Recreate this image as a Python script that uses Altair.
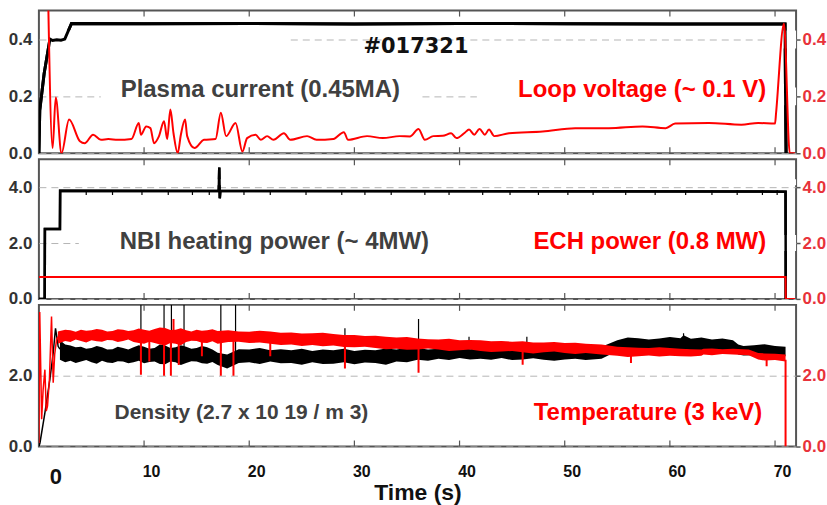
import altair as alt
import pandas as pd

# ---------------- Panel 1: plasma current (MA, black) and loop voltage (V, red)
ip_t = [0.0, 0.08, 0.5, 1.05, 1.3, 1.7, 2.1, 2.46, 3.1, 10, 20, 30, 40, 50, 60, 70.95, 71.0, 71.05]
ip_v = [0.0, 0.15, 0.28, 0.40, 0.395, 0.398, 0.396, 0.40, 0.455, 0.454, 0.455, 0.453, 0.455, 0.454, 0.453, 0.453, 0.2, 0.0]

lv_t = [0.85, 1.3, 1.6, 2.15, 2.87, 3.9, 4.35, 5.15, 5.9, 6.6,
        7.5, 8.8, 9.5, 9.7, 10.2, 10.6, 10.95, 11.4, 11.9, 12.2,
        12.5, 12.8, 13.2, 13.5, 13.9, 14.1, 14.8, 15.7, 16.8, 17.3,
        17.8, 18.7, 19.35, 19.8, 20.6, 21.1, 21.7, 22.3, 23.3, 23.9,
        25.5, 26.4, 28.0, 29.0, 29.4, 31.2, 32.7, 34.3, 35.3, 36.1,
        36.7, 37.5, 38.4, 39.2, 39.7, 40.5, 40.9, 41.4, 41.9, 42.4,
        42.8, 43.3, 44.7, 47.9, 51.0, 54.2, 57.4, 59.6, 60.5, 63.7,
        66.8, 68.4, 70.0, 70.1, 70.85, 71.4, 71.9]
lv_v = [0.60, 0.018, 0.195, 0.0, 0.118, 0.042, 0.035, 0.065, 0.047, 0.05,
        0.047, 0.05, 0.106, 0.065, 0.094, 0.088, 0.035, 0.058, 0.112, 0.05,
        0.153, 0.07, 0.0, 0.065, 0.118, 0.06, 0.018, 0.047, 0.05, 0.142,
        0.06, 0.106, 0.006, 0.053, 0.065, 0.047, 0.06, 0.047, 0.07, 0.047,
        0.06, 0.047, 0.05, 0.074, 0.047, 0.06, 0.053, 0.06, 0.059, 0.085,
        0.047, 0.06, 0.061, 0.07, 0.053, 0.072, 0.083, 0.065, 0.085, 0.065,
        0.083, 0.06, 0.07, 0.076, 0.088, 0.088, 0.094, 0.088, 0.104, 0.106,
        0.10, 0.106, 0.104, 0.142, 0.454, 0.0, 0.0]

# ---------------- Panel 2: NBI heating power (MW, black) and ECH power (MW, red)
nbi_t = [0.0, 0.55, 0.57, 2.0, 2.02, 17.1, 17.15, 17.2, 17.25, 71.0, 71.02]
nbi_v = [0.0, 0.0, 2.5, 2.5, 3.87, 3.86, 4.7, 3.6, 3.86, 3.84, 0.0]
nbi_dip_t = [4.5, 7.0, 9.8, 12.3, 14.6, 16.2, 19.5, 22.0, 25.4, 28.8, 31.0, 33.5, 36.7,
             39.0, 42.2, 44.8, 47.5, 50.3, 52.7, 55.8, 58.6, 61.5, 64.0, 66.4, 68.8, 70.2]
nbi_dip_lo = [3.72] * len(nbi_dip_t)
nbi_dip_hi = [3.9] * len(nbi_dip_t)

ech_t = [0.0, 71.0, 71.02, 71.9]
ech_v = [0.78, 0.78, 0.0, 0.0]

# ---------------- Panel 3: density (black) and temperature (red)
ne_early_t = [0.0, 0.1, 0.57, 1.04, 1.36, 1.58, 1.83, 2.0]
ne_early_v = [0.0, 0.1, 0.95, 1.89, 2.64, 3.34, 2.83, 2.75]
ne_t = [2.0, 2.5, 3, 3.5, 4, 4.5, 5, 5.5, 6, 6.5, 7, 7.5, 8, 8.5, 9, 9.5, 10, 10.5, 11,
        11.5, 12, 12.5, 13, 13.5, 14, 14.5, 15, 15.5, 16, 16.5, 17, 17.9, 19, 20, 21, 22, 23,
        24, 25, 26, 27, 28, 29, 30, 31, 32, 33, 34, 35, 36, 37, 38, 39, 40, 41, 42, 43,
        44, 45, 46, 47, 48, 49, 50, 51, 52, 53.5, 55, 56, 57, 58, 59, 60, 61,
        61.3, 62, 63, 64, 65, 66, 66.5, 67, 68, 69, 70, 71.0]
ne_lo = [2.45, 2.38, 2.42, 2.36, 2.40, 2.44, 2.38, 2.34, 2.42, 2.37, 2.36, 2.41, 2.40, 2.35, 2.38, 2.42, 2.35, 2.39, 2.40,
         2.33, 2.32, 2.40, 2.38, 2.30, 2.36, 2.41, 2.40, 2.35, 2.34, 2.39, 2.30, 2.20, 2.36, 2.38, 2.33, 2.40, 2.35,
         2.36, 2.31, 2.38, 2.33, 2.34, 2.38, 2.32, 2.37, 2.36, 2.31, 2.40, 2.38, 2.45, 2.42, 2.48, 2.44, 2.50, 2.46, 2.48, 2.45,
         2.50, 2.44, 2.46, 2.49, 2.45, 2.42, 2.46, 2.48, 2.44, 2.48, 2.70, 2.66, 2.72, 2.69, 2.74, 2.70, 2.72,
         2.75, 2.72, 2.68, 2.74, 2.70, 2.72, 2.60, 2.57, 2.58, 2.54, 2.56, 2.55]
ne_hi = [3.00, 2.88, 2.85, 2.80, 2.82, 2.76, 2.78, 2.84, 2.80, 2.74, 2.75, 2.82, 2.78, 2.74, 2.80, 2.86, 2.82, 2.76, 2.78,
         2.88, 2.85, 2.78, 2.80, 2.86, 2.82, 2.76, 2.78, 2.84, 2.80, 2.74, 2.65, 2.60, 2.75, 2.74, 2.78, 2.72, 2.75,
         2.72, 2.76, 2.70, 2.74, 2.72, 2.76, 2.70, 2.73, 2.72, 2.77, 2.74, 2.79, 2.78, 2.74, 2.76, 2.80, 2.78, 2.75, 2.78, 2.81,
         2.76, 2.80, 2.78, 2.74, 2.78, 2.81, 2.76, 2.79, 2.80, 2.82, 3.00, 3.08, 3.06, 3.02, 3.05, 3.09, 3.06,
         3.14, 3.04, 3.08, 3.02, 3.05, 3.00, 2.88, 2.84, 2.86, 2.89, 2.84, 2.82]
ne_spike_t = [9.7, 11.9, 12.6, 13.8, 17.3, 18.7, 29.1, 36.1, 40.9, 46.4, 61.3]
ne_spike_lo = [2.8, 2.8, 2.8, 2.8, 2.7, 2.7, 2.7, 2.75, 2.75, 2.75, 3.0]
ne_spike_hi = [4.0, 4.0, 4.0, 4.0, 4.0, 4.0, 3.34, 3.6, 3.1, 3.1, 3.2]

te_early_t = [0.0, 0.08, 0.26, 0.4, 0.57, 0.7, 0.82, 1.0, 1.2, 1.36, 1.5, 1.67, 1.8]
te_early_v = [0.1, 3.8, 0.77, 1.6, 2.17, 1.0, 1.15, 1.9, 3.67, 1.8, 2.6, 3.0, 3.1]
te_t = [1.8, 2.5, 3, 3.5, 4, 4.5, 5, 5.5, 6, 6.5, 7, 7.5, 8, 8.5, 9, 9.5, 10, 10.5, 11,
        11.5, 12, 12.5, 13, 13.5, 14, 14.5, 15, 15.5, 16, 16.5, 17, 18, 19, 20, 21, 22, 23,
        24, 25, 26, 27, 28, 29, 30, 31, 32, 33, 34, 35, 36, 37, 38, 39, 40, 41, 42, 43,
        44, 45, 46, 47, 48, 49, 50, 51, 52, 53.5, 55, 56, 57, 58, 59, 60, 61,
        62, 63, 63.2, 64, 65, 66, 67.5, 68.4, 69, 70, 71.0]
te_lo = [2.90, 2.98, 2.95, 3.02, 2.98, 2.94, 3.00, 2.97, 2.96, 3.01, 3.00, 2.95, 2.98, 3.02, 2.95, 2.92, 2.90, 2.96, 2.92,
         2.88, 2.85, 2.92, 2.90, 2.86, 2.95, 2.99, 2.98, 2.93, 2.92, 2.97, 2.90, 2.95, 2.96, 2.92, 2.94, 2.90, 2.87,
         2.88, 2.84, 2.87, 2.83, 2.85, 2.81, 2.80, 2.82, 2.78, 2.75, 2.76, 2.73, 2.74, 2.77, 2.74, 2.70, 2.72, 2.74, 2.70, 2.67,
         2.68, 2.70, 2.66, 2.63, 2.66, 2.68, 2.64, 2.61, 2.64, 2.60, 2.56, 2.53, 2.55, 2.57, 2.54, 2.56, 2.55,
         2.54, 2.56, 2.60, 2.58, 2.61, 2.60, 2.58, 2.46, 2.43, 2.44, 2.40]
te_hi = [3.25, 3.30, 3.28, 3.24, 3.30, 3.27, 3.28, 3.32, 3.30, 3.25, 3.26, 3.31, 3.30, 3.26, 3.28, 3.33, 3.30, 3.27, 3.32,
         3.36, 3.35, 3.29, 3.30, 3.34, 3.28, 3.25, 3.30, 3.27, 3.28, 3.31, 3.26, 3.28, 3.25, 3.24, 3.27, 3.25, 3.21,
         3.22, 3.19, 3.20, 3.21, 3.18, 3.15, 3.15, 3.12, 3.13, 3.10, 3.08, 3.09, 3.05, 3.03, 3.02, 3.04, 3.00, 3.01, 3.00, 2.97,
         2.98, 2.96, 2.97, 2.94, 2.94, 2.95, 2.92, 2.93, 2.90, 2.88, 2.82, 2.80, 2.79, 2.78, 2.80, 2.78, 2.76,
         2.75, 2.74, 2.76, 2.77, 2.75, 2.76, 2.74, 2.64, 2.63, 2.62, 2.60]
te_dip_t = [9.7, 10.5, 11.9, 12.55, 13.3, 15.5, 17.3, 18.5, 22.0, 29.1, 36.1, 46.0, 56.3, 69.2, 71.0]
te_dip_lo = [2.03, 2.40, 2.00, 2.00, 2.30, 2.55, 2.00, 2.00, 2.55, 2.20, 2.08, 2.31, 2.36, 2.27, 0.0]
te_dip_hi = [3.0, 3.0, 3.0, 3.0, 3.0, 3.0, 3.0, 3.0, 3.0, 2.9, 2.8, 2.75, 2.6, 2.5, 2.45]
te_spike_t = [12.8]
te_spike_lo = [3.0]
te_spike_hi = [3.6]

tick_times = [10, 20, 30, 40, 50, 60, 70]
x_labels = [0, 10, 20, 30, 40, 50, 60, 70]

# ---------------- styling
W = 759
H1, H2, H3 = 143, 140, 142
RED = "#ff0000"
LABEL_RED = "#e8323a"
GREY_TXT = "#404040"
FONT = "Liberation Sans"
XS = alt.Scale(domain=[0, 72], nice=False, zero=False)
one = pd.DataFrame({"k": [0]})


def line_df(t, v):
    return pd.DataFrame({"t": t, "v": v, "i": list(range(len(t)))})


def band_df(t, lo, hi):
    return pd.DataFrame({"t": t, "lo": lo, "hi": hi})


def yscale(hi):
    return alt.Scale(domain=[0, hi], nice=False, zero=False)


def left_axis(vals):
    return alt.Axis(values=vals, format=".1f", orient="left", ticks=False, domain=False,
                    labelPadding=7, labelFont=FONT, labelFontSize=17, labelFontWeight="bold",
                    labelColor="#333333", grid=True, gridDash=[7, 5], gridColor="#b5b5b5",
                    minExtent=38, maxExtent=38, title=None)


def right_axis(vals):
    return alt.Axis(values=vals, format=".1f", orient="right", ticks=True, tickSize=4,
                    tickColor="#555555", tickWidth=1.5, domain=False, labelPadding=2,
                    labelFont=FONT, labelFontSize=17, labelFontWeight="bold",
                    labelColor=LABEL_RED, grid=False, minExtent=30, maxExtent=30, title=None)


def line(t, v, color, width, ys, xenc, axis=None, interp="linear"):
    return alt.Chart(line_df(t, v)).mark_line(color=color, strokeWidth=width, clip=True,
                                              interpolate=interp).encode(
        x=xenc, y=alt.Y("v:Q", scale=ys, axis=axis), order="i:Q")


def band(t, lo, hi, color, ys, xenc):
    return alt.Chart(band_df(t, lo, hi)).mark_area(color=color, opacity=1, clip=True).encode(
        x=xenc, y=alt.Y("lo:Q", scale=ys, axis=None), y2="hi:Q")


def rules(t, lo, hi, color, width, ys, xenc):
    return alt.Chart(band_df(t, lo, hi)).mark_rule(color=color, strokeWidth=width, clip=True).encode(
        x=xenc, y=alt.Y("lo:Q", scale=ys, axis=None), y2="hi:Q")


def mask(x1, x2, y1, y2):
    return alt.Chart(one).mark_rect(color="white").encode(
        x=alt.value(x1), x2=alt.value(x2), y=alt.value(y1), y2=alt.value(y2))


def label(s, x, y, size, color, align="center", font=FONT):
    return alt.Chart(one).mark_text(text=s, align=align, baseline="middle", font=font,
                                    fontSize=size, fontWeight="bold", color=color).encode(
        x=alt.value(x), y=alt.value(y))


def inner_ticks(h, xenc):
    d = pd.DataFrame({"t": tick_times})
    top = alt.Chart(d).mark_rule(color="#555555", strokeWidth=1.2).encode(
        x=xenc, y=alt.value(0), y2=alt.value(6))
    bot = alt.Chart(d).mark_rule(color="#555555", strokeWidth=1.2).encode(
        x=xenc, y=alt.value(h), y2=alt.value(h - 6))
    return [top, bot]


# ---------------- panel 1
x1 = alt.X("t:Q", scale=XS, axis=None)
ys1 = yscale(0.5)
p1 = alt.layer(
    line(ip_t, ip_v, "#000000", 3, ys1, x1, left_axis([0.0, 0.2, 0.4])),
    mask(9, 249, 20, 38), mask(62, 382, 77, 95), mask(439, 759, 77, 95), mask(729, 759, 20, 38),
    line(ip_t, ip_v, "#000000", 3, ys1, x1),
    line(lv_t, lv_v, RED, 2, ys1, x1, right_axis([0.0, 0.2, 0.4]), interp="monotone"),
    label("#017321", 378, 37, 21, "#111111", font="DejaVu Sans"),
    label("Plasma current (0.45MA)", 222, 80, 24, GREY_TXT),
    label("Loop voltage (~ 0.1 V)", 729, 80, 24, RED, align="right"),
    *inner_ticks(H1, x1),
).resolve_scale(y="independent").properties(width=W, height=H1)

# ---------------- panel 2
x2 = alt.X("t:Q", scale=XS, axis=None)
ys2 = yscale(5.0)
p2 = alt.layer(
    line(nbi_t, nbi_v, "#000000", 2.5, ys2, x2, left_axis([0.0, 2.0, 4.0])),
    mask(7, 759, 20, 26), mask(40, 759, 76, 92),
    line(nbi_t, nbi_v, "#000000", 2.5, ys2, x2),
    rules(nbi_dip_t, nbi_dip_lo, nbi_dip_hi, "#000000", 1.2, ys2, x2),
    line(ech_t, ech_v, RED, 2, ys2, x2, right_axis([0.0, 2.0, 4.0])),
    label("NBI heating power (~ 4MW)", 236, 83, 24, GREY_TXT),
    label("ECH power (0.8 MW)", 729, 83, 24, RED, align="right"),
    *inner_ticks(H2, x2),
).resolve_scale(y="independent").properties(width=W, height=H2)

# ---------------- panel 3
xax3 = alt.Axis(values=x_labels, labelExpr="datum.value == 0 ? '' : datum.label",
                ticks=False, domain=False, grid=False, labelPadding=17, labelFont=FONT,
                labelFontSize=16, labelFontWeight="bold", labelColor="#111111", labelOffset=7,
                title="Time (s)", titleFont=FONT, titleFontSize=23, titleFontWeight="bold",
                titleColor="#111111", titlePadding=2)
x3 = alt.X("t:Q", scale=XS, axis=xax3)
ys3 = yscale(4.0)
p3 = alt.layer(
    band(ne_t, ne_lo, ne_hi, "#000000", ys3, x3),
    line(ne_early_t, ne_early_v, "#000000", 1.5, ys3, x3, left_axis([0.0, 2.0])),
    rules(ne_spike_t, ne_spike_lo, ne_spike_hi, "#000000", 1.2, ys3, x3),
    band(te_t, te_lo, te_hi, RED, ys3, x3),
    line(te_early_t, te_early_v, RED, 1.5, ys3, x3, right_axis([0.0, 2.0])),
    rules(te_dip_t, te_dip_lo, te_dip_hi, RED, 2, ys3, x3),
    rules(te_spike_t, te_spike_lo, te_spike_hi, RED, 2, ys3, x3),
    label("Density (2.7 x 10 19 / m 3)", 203, 108, 21, GREY_TXT),
    label("Temperature (3 keV)", 725, 108, 24, RED, align="right"),
    label("0", 17, 173, 22, "#111111"),
    *inner_ticks(H3, x3),
).resolve_scale(y="independent").properties(width=W, height=H3)

chart = alt.vconcat(p1, p2, p3, spacing=6, bounds="flush").properties(
    padding={"left": 0, "top": 8, "right": 0, "bottom": 0},
    background="white",
).configure_view(stroke="#555555", strokeWidth=2)

chart.save("out.html", embed_options={"renderer": "svg", "actions": False})
